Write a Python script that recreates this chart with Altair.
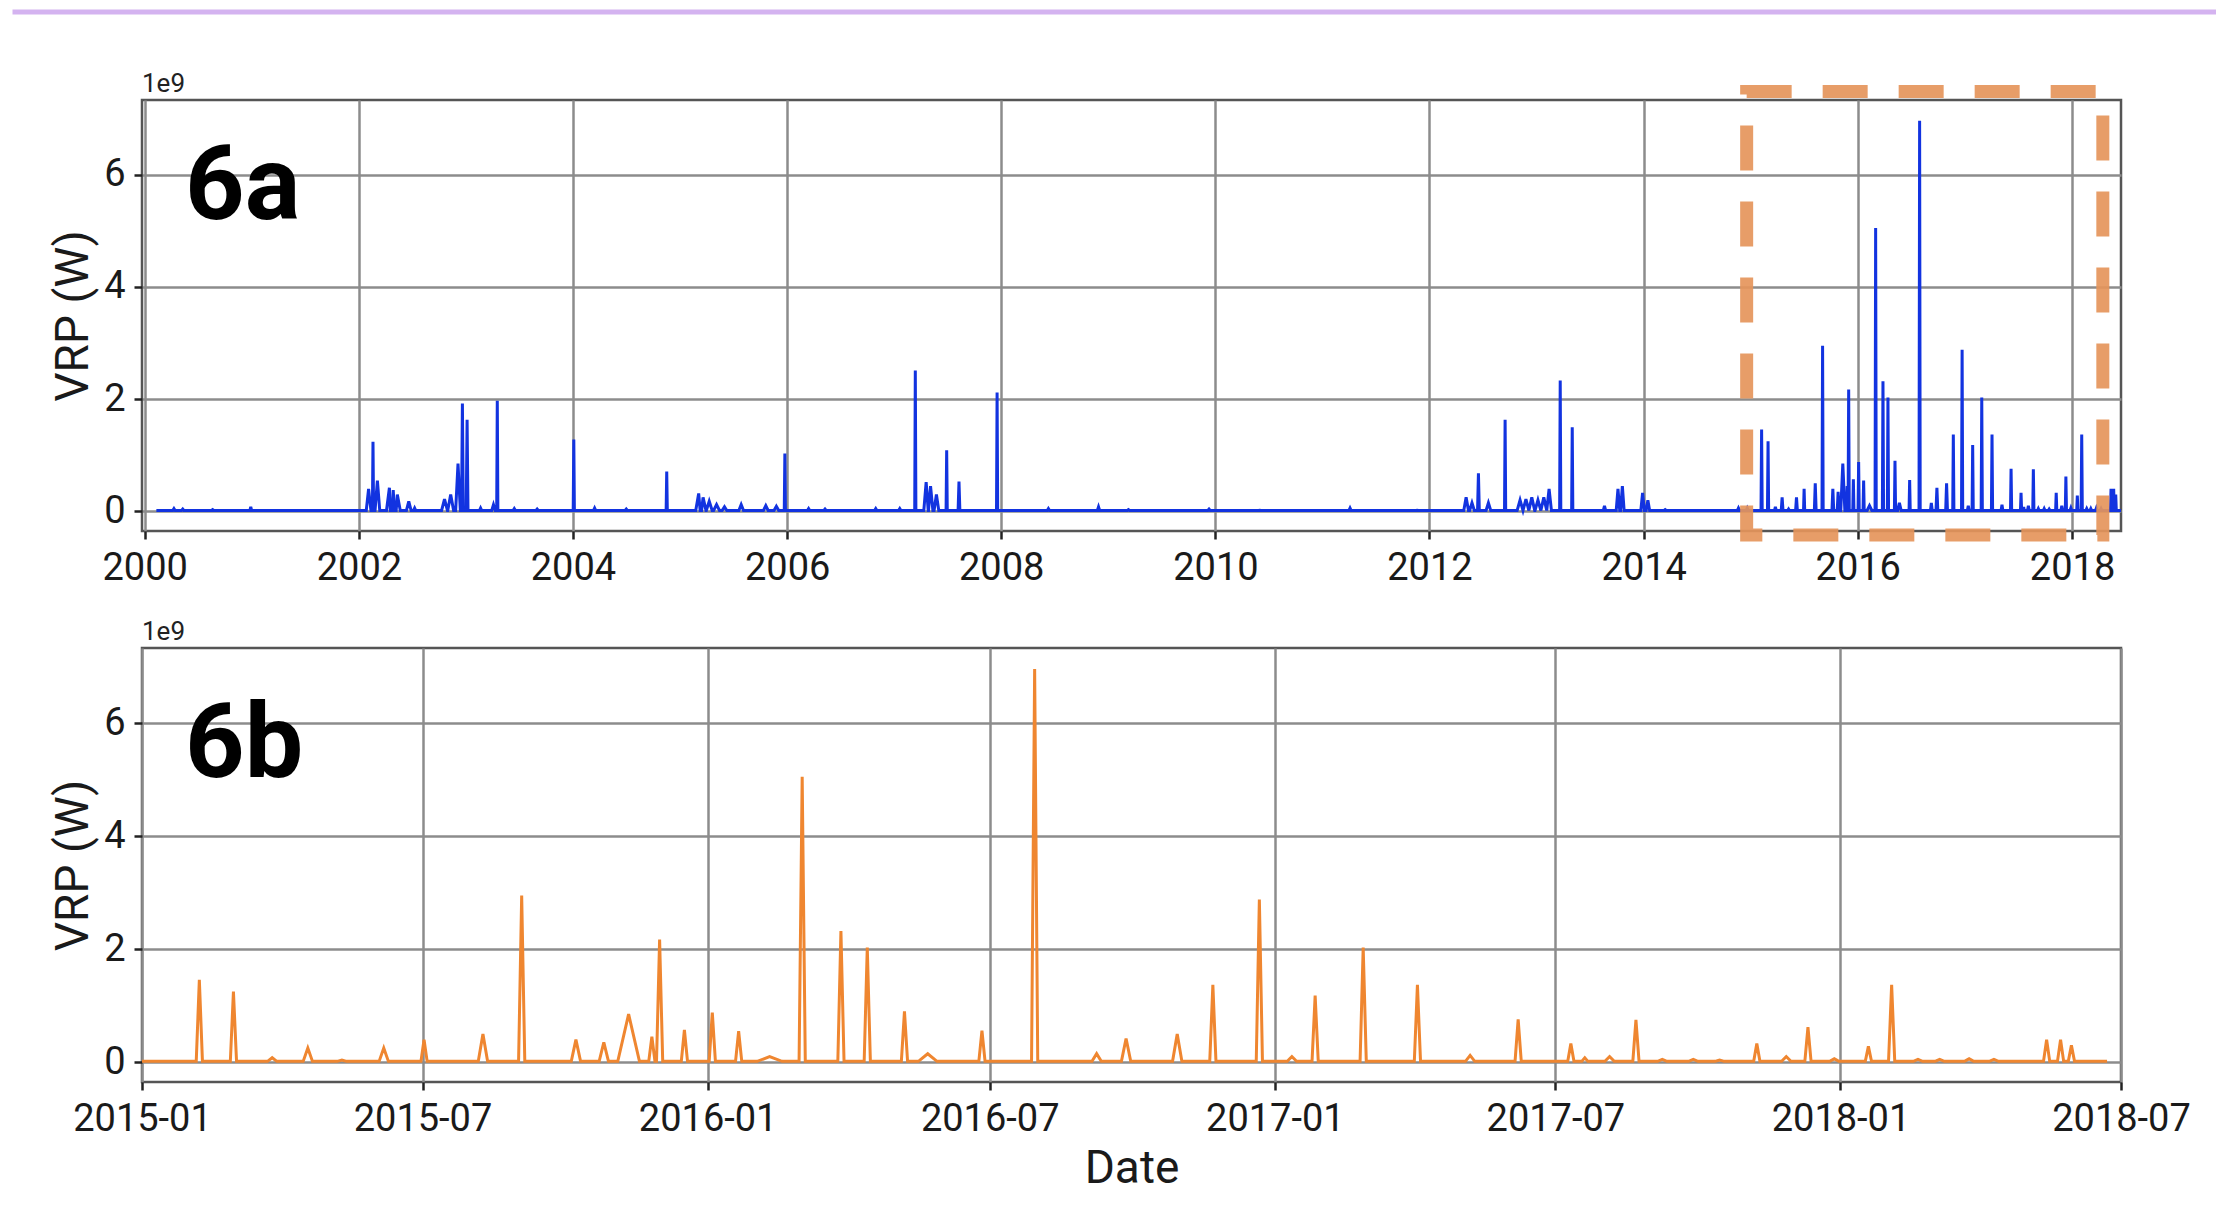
import altair as alt
import pandas as pd

# ---------------- data (VRP in units of 1e9 W) ----------------
BASE = 0.015
series_start = "2000-02-10"
series_end = "2018-06-22"

event_dates = [
    "2000-04-10", "2000-05-10", "2000-08-20", "2000-12-28",
    "2002-02-03", "2002-02-18", "2002-03-05", "2002-04-15", "2002-04-28", "2002-05-12",
    "2002-06-20", "2002-07-10", "2002-10-20", "2002-11-10", "2002-12-05", "2002-12-20",
    "2003-01-05", "2003-02-20", "2003-04-05", "2003-04-18", "2003-06-15", "2003-09-01",
    "2004-01-04", "2004-03-15", "2004-07-01", "2004-11-16",
    "2005-03-05", "2005-03-20", "2005-04-10", "2005-05-05", "2005-06-01", "2005-07-28",
    "2005-10-20", "2005-11-25", "2005-12-24",
    "2006-03-15", "2006-05-10", "2006-10-30",
    "2007-01-20", "2007-03-14", "2007-04-20", "2007-05-05", "2007-05-25", "2007-06-29",
    "2007-08-10", "2007-12-18",
    "2008-06-10", "2008-11-28", "2009-03-10", "2009-12-10", "2010-06-01",
    "2011-04-05", "2011-11-20",
    "2012-05-05", "2012-05-25", "2012-06-16", "2012-07-20", "2012-09-15", "2012-11-05",
    "2012-11-25", "2012-12-15", "2013-01-05", "2013-01-25", "2013-02-12", "2013-03-22",
    "2013-05-02", "2013-08-20", "2013-10-05", "2013-10-20", "2013-12-28",
    "2014-01-15", "2014-03-15", "2014-11-20", "2014-12-20",
    "2015-02-07", "2015-03-01", "2015-03-26", "2015-04-18", "2015-05-10", "2015-06-06",
    "2015-07-02", "2015-08-09", "2015-09-03", "2015-10-08", "2015-10-26", "2015-11-11",
    "2015-11-26", "2015-12-01", "2015-12-17", "2016-01-04", "2016-01-21", "2016-02-10",
    "2016-03-02", "2016-03-27", "2016-04-13", "2016-05-07", "2016-05-22", "2016-06-26",
    "2016-07-30", "2016-09-08", "2016-09-27", "2016-10-30", "2016-11-22", "2016-12-22",
    "2017-01-12", "2017-01-27", "2017-02-27", "2017-04-03", "2017-05-07", "2017-06-07",
    "2017-07-11", "2017-07-20", "2017-08-05", "2017-08-22", "2017-09-08", "2017-09-28",
    "2017-10-15", "2017-11-08", "2017-11-27", "2017-12-11", "2017-12-28", "2018-01-19",
    "2018-02-03", "2018-02-20", "2018-03-06", "2018-03-25", "2018-04-10", "2018-05-14",
    "2018-05-23", "2018-05-30",
]
event_values = [
    0.05, 0.04, 0.03, 0.08,
    0.40, 1.24, 0.55, 0.42, 0.38, 0.30,
    0.18, 0.06, 0.22, 0.30, 0.85, 1.92,
    1.63, 0.06, 0.12, 1.97, 0.05, 0.04,
    1.28, 0.06, 0.04, 0.71,
    0.32, 0.25, 0.18, 0.12, 0.08, 0.12,
    0.10, 0.09, 1.03,
    0.05, 0.04, 0.05,
    0.05, 2.51, 0.52, 0.45, 0.30, 1.09,
    0.53, 2.12,
    0.05, 0.08, 0.03, 0.04, 0.02,
    0.06, 0.02,
    0.25, 0.15, 0.68, 0.15, 1.63, 0.20,
    0.22, 0.25, 0.20, 0.25, 0.40, 2.33,
    1.50, 0.10, 0.40, 0.45, 0.33,
    0.20, 0.03, 0.06, 0.06,
    1.46, 1.25, 0.08, 0.25, 0.04, 0.25,
    0.40, 0.50, 2.95, 0.40, 0.35, 0.85,
    0.45, 2.17, 0.57, 0.88, 0.55, 0.10,
    5.05, 2.32, 2.03, 0.90, 0.15, 0.56,
    6.96, 0.15, 0.42, 0.50, 1.37, 2.88,
    0.10, 1.18, 2.03, 1.37, 0.12, 0.76,
    0.33, 0.08, 0.10, 0.75, 0.05, 0.05,
    0.04, 0.33, 0.10, 0.62, 0.06, 0.28,
    1.37, 0.05, 0.05, 0.06, 0.05, 0.40,
    0.40, 0.30,
]
event_halfwidth_days = [
    4, 4, 4, 3,
    8, 2, 8, 10, 10, 10,
    8, 4, 10, 10, 8, 3,
    3, 4, 6, 2, 4, 4,
    2, 4, 4, 2,
    10, 10, 10, 10, 8, 8,
    8, 8, 2,
    4, 4, 4,
    4, 2, 8, 8, 8, 2,
    3, 2,
    4, 4, 4, 4, 4,
    4, 4,
    8, 8, 3, 8, 2, 10,
    10, 10, 10, 10, 8, 2,
    2, 4, 6, 6, 6,
    6, 4, 4, 4,
    2, 2, 3, 3, 3, 3,
    2, 3, 2, 3, 3, 7,
    2, 2, 2, 2, 2, 8,
    2, 2, 2, 2, 6, 2,
    2, 3, 3, 3, 2, 2,
    3, 2, 2, 2, 3, 2,
    2, 2, 3, 2, 3, 3,
    3, 2, 3, 2, 3, 2,
    2, 3, 3, 3, 3, 2,
    2, 2,
]

# zoom window drawn on panel 6a (dashed box)
zoom_box_dates = ["2014-12-18", "2018-04-16"]
zoom_box_values = [-0.42, 7.48]

top_ticks = [2000, 2002, 2004, 2006, 2008, 2010, 2012, 2014, 2016, 2018]
bottom_ticks = [(2015, 1), (2015, 7), (2016, 1), (2016, 7), (2017, 1), (2017, 7), (2018, 1), (2018, 7)]

# ---------------- build the line series ----------------
rows = [(pd.Timestamp(series_start), BASE), (pd.Timestamp(series_end), BASE)]
for d, v, h in zip(event_dates, event_values, event_halfwidth_days):
    t = pd.Timestamp(d)
    rows.append((t - pd.Timedelta(days=h), BASE))
    rows.append((t, v))
    rows.append((t + pd.Timedelta(days=h), BASE))
series = pd.DataFrame(rows, columns=["date", "vrp"]).sort_values("date").reset_index(drop=True)

box_df = pd.DataFrame({
    "start": [pd.Timestamp(zoom_box_dates[0])],
    "end": [pd.Timestamp(zoom_box_dates[1])],
    "low": [zoom_box_values[0]],
    "high": [zoom_box_values[1]],
})

Y_DOMAIN = [-0.35, 7.33]
PLOT_W = 1979
TICK_FONT = "Roboto"
GRID = "#8c8c8c"

y_axis = alt.Axis(
    values=[0, 2, 4, 6], format="d", title="VRP (W)", grid=True,
    titlePadding=6, labelPadding=9,
)


def panel_label(text, y):
    return alt.Chart(pd.DataFrame({"label": [text]})).mark_text(
        font="Roboto", fontSize=104, fontWeight="bold", color="#000000",
        align="left", baseline="alphabetic",
    ).encode(x=alt.value(43), y=alt.value(y), text="label:N")


def offset_label():
    return alt.Chart(pd.DataFrame({"label": ["1e9"]})).mark_text(
        font=TICK_FONT, fontSize=26, color="#222222", align="left", baseline="alphabetic",
    ).encode(x=alt.value(0), y=alt.value(-8), text="label:N")


# ---------------- panel 6a ----------------
x_top = alt.X(
    "date:T",
    scale=alt.Scale(domain=[alt.DateTime(year=1999, month=12, date=23),
                            alt.DateTime(year=2018, month=6, date=17)]),
    axis=alt.Axis(values=[alt.DateTime(year=y, month=1, date=1) for y in top_ticks],
                  format="%Y", title=None, grid=True),
)
line_top = alt.Chart(series).mark_line(color="#1233e0", strokeWidth=3, clip=True).encode(
    x=x_top,
    y=alt.Y("vrp:Q", scale=alt.Scale(domain=Y_DOMAIN, nice=False, zero=False), axis=y_axis),
)
box = alt.Chart(box_df).mark_rect(
    filled=False, stroke="#e5955b", strokeOpacity=0.92, strokeWidth=13,
    strokeDash=[45, 31], clip=False,
).encode(x="start:T", x2="end:T", y="high:Q", y2="low:Q")

page_rule = alt.Chart(pd.DataFrame({"k": [0]})).mark_rule(
    color="#d4b3f0", strokeWidth=5, clip=False,
).encode(x=alt.value(-129.5), x2=alt.value(2074), y=alt.value(-88))

top = alt.layer(line_top, box, panel_label("6a", 119), offset_label(), page_rule).properties(
    width=PLOT_W, height=431
)

# ---------------- panel 6b ----------------
x_bot = alt.X(
    "date:T",
    scale=alt.Scale(domain=[alt.DateTime(year=2015, month=1, date=1),
                            alt.DateTime(year=2018, month=7, date=1)]),
    axis=alt.Axis(values=[alt.DateTime(year=y, month=m, date=1) for y, m in bottom_ticks],
                  format="%Y-%m", title="Date", grid=True, titlePadding=8),
)
line_bot = alt.Chart(series).mark_line(color="#ef8630", strokeWidth=3, clip=True).encode(
    x=x_bot,
    y=alt.Y("vrp:Q", scale=alt.Scale(domain=Y_DOMAIN, nice=False, zero=False), axis=y_axis),
)
bottom = alt.layer(line_bot, panel_label("6b", 129), offset_label()).properties(
    width=PLOT_W, height=434
)

chart = alt.vconcat(top, bottom, spacing=117, bounds="flush").properties(
    padding=0, background="#ffffff"
).configure_view(
    stroke="#555555", strokeWidth=2.5
).configure_axis(
    domain=False,
    grid=True, gridColor=GRID, gridWidth=2.5, gridOpacity=1,
    tickColor="#222222", tickSize=8, tickWidth=2.5,
    labelFont=TICK_FONT, labelFontSize=38, labelColor="#1a1a1a",
    labelPadding=10, labelFlush=False, labelOverlap=False, labelBound=False,
    titleFont=TICK_FONT, titleFontSize=46, titleFontWeight="normal", titleColor="#1a1a1a",
)

chart.save("out.html", embed_options={"renderer": "svg", "actions": False})
